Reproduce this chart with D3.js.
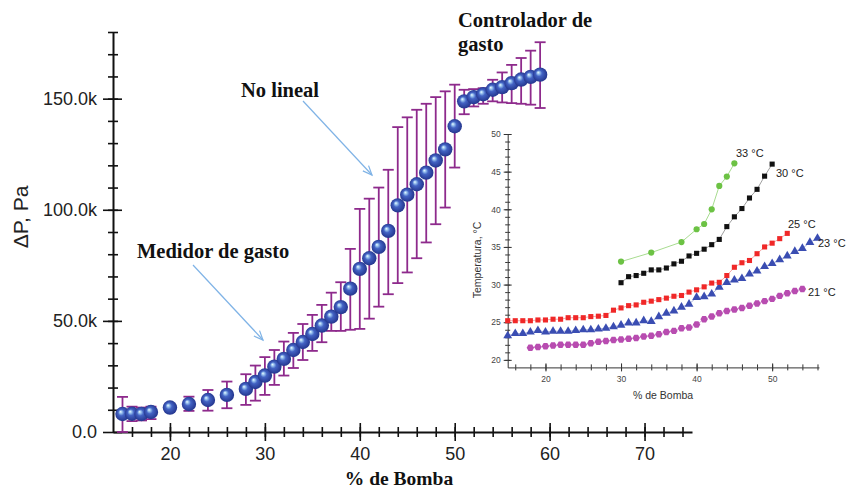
<!DOCTYPE html>
<html>
<head>
<meta charset="utf-8">
<script src="https://cdn.jsdelivr.net/npm/d3@7"></script>
<style>
  html, body { margin:0; padding:0; background:#fff; }
  svg { display:block; }
  .sans { font-family: "Liberation Sans", Arial, sans-serif; }
  .serif { font-family: "Liberation Serif", "Times New Roman", serif; font-weight:bold; }
</style>
</head>
<body>
<svg id="chart" width="847" height="489"></svg>
<script>
'use strict';

// main chart: pressure drop vs pump %
var bomba = [15,16,17,18,20,22,24,26,28,29,30,31,32,33,34,35,36,37,38,39,40,41,42,43,44,45,46,47,48,49,50,51,52,53,54,55,56,57,58,59]
  , deltaP = [8.1,8.2,8.1,9.0,11.0,12.6,14.4,16.7,19.4,22.5,25.4,29.4,32.9,36.9,40.5,44.1,47.9,51.9,56.2,64.5,73.4,78.2,83.3,90.5,102,106.8,111.5,116.7,122.2,127.2,137.6,148.8,150.7,152,154,155.2,157,158.6,159.8,160.8]
  , errHigh = [15.8,11.4,11.0,11.4,12.5,15.9,18.9,22.7,26,29.9,33.7,36.9,40.7,44.6,48.6,52.7,57.2,62.7,67.4,82.4,100.4,105,110,118,137.2,141.6,145,147.7,150.7,153.3,156.3,154,154.3,154.7,158.5,161.8,165.2,168.3,171.6,175.4]
  , errLow = [0,4.9,5.2,5.8,9.5,9.5,9.6,10.7,12.2,14.1,16.7,21.2,25.4,28.8,32.4,36.5,40.4,45.5,45.5,46,46.4,51,56.4,62,67,71.8,78.2,85.3,93.5,101,119,143,146.5,147.7,148.8,148.3,148,147.7,147.3,145.8]
  , mainXTicks = [20,30,40,50,60,70]
  , mainYTicks = [0,50,100,150];

// inset: temperature vs pump %
var t25x = d3.range(15, 53)
  , t25 = [25.2,25.2,25.2,25.2,25.3,25.3,25.4,25.4,25.6,25.6,25.6,25.75,25.8,25.9,26.6,26.9,27.2,27.3,27.65,27.8,28.0,28.2,28.45,28.55,29.0,29.3,29.7,30.2,30.3,31.2,32.3,32.9,33.2,34.1,35.0,35.5,36.1,36.8]
  , t23x = d3.range(15, 57)
  , t23 = [23.2,23.5,23.5,23.7,23.9,23.7,23.8,23.8,23.8,23.9,24.0,24.0,24.1,24.2,24.4,24.6,24.9,24.9,25.2,25.1,25.75,26.2,26.5,27.0,27.4,28.3,28.4,28.75,29.65,30.3,30.6,30.8,31.4,31.8,32.4,32.8,33.3,33.8,34.4,34.8,35.6,36.15]
  , t21x = d3.range(18, 55)
  , t21 = [21.6,21.7,21.8,21.9,22.0,22.0,22.0,22.0,22.2,22.4,22.5,22.65,22.7,22.8,22.9,23.1,23.2,23.4,23.7,23.85,24.2,24.3,24.7,25.4,25.75,26.2,26.5,26.7,26.9,27.2,27.5,27.8,28.1,28.5,28.85,29.15,29.4]
  , t30x = d3.range(30, 51)
  , t30 = [30.25,31.05,31.2,31.5,31.95,31.95,32.2,32.75,33.1,33.8,34.15,34.7,35.3,36.0,37.7,39.0,40.1,41.5,42.65,44.4,46.0]
  , t33x = [30,34,38,40,41,42,43,44,45]
  , t33 = [33.05,34.25,35.65,37.35,38.05,40.0,43.1,44.35,46.1]
  , insetXTicks = [20,30,40,50]
  , insetYTicks = [20,25,30,35,40,45,50];

var svg = d3.select('#chart');

var defs = svg.append('defs');
var grad = defs.append('radialGradient')
  .attr('id', 'ball')
  .attr('cx', '50%').attr('cy', '50%').attr('r', '55%')
  .attr('fx', '36%').attr('fy', '34%');
grad.append('stop').attr('offset', '0%').attr('stop-color', '#f2fbff');
grad.append('stop').attr('offset', '16%').attr('stop-color', '#9cc6f0');
grad.append('stop').attr('offset', '40%').attr('stop-color', '#4363c4');
grad.append('stop').attr('offset', '100%').attr('stop-color', '#1f2f86');

// ---------- main chart ----------
var x = d3.scaleLinear().domain([14, 75]).range([113, 692])
  , y = d3.scaleLinear().domain([0, 180]).range([432, 32]);

function crossAxis(g, axis, majors, minors, big, small){
  // ticks that cross the axis line on both sides
  g.append('g').call(axis.tickValues(minors).tickSize(small).tickFormat(''))
    .call(function(s){ s.select('.domain').remove(); });
  g.append('g').call(axis.tickValues(minors).tickSize(-small).tickFormat(''))
    .call(function(s){ s.select('.domain').remove(); });
  g.append('g').call(axis.tickValues(majors).tickSize(-big).tickFormat(''))
    .call(function(s){ s.select('.domain').remove(); });
}

var gx = svg.append('g').attr('transform', 'translate(0,432)');
crossAxis(gx, d3.axisBottom(x), mainXTicks, d3.range(16, 75, 2), 9, 5);
gx.append('g').call(d3.axisBottom(x).tickValues(mainXTicks).tickSize(9).tickPadding(6).tickSizeOuter(0))
  .call(function(s){
    s.select('.domain').attr('stroke-width', 2);
    s.selectAll('text').attr('class', 'sans').attr('font-size', 18).attr('fill', '#222');
  });
gx.selectAll('line').attr('stroke', '#111').attr('stroke-width', 1.6);

var gy = svg.append('g').attr('transform', 'translate(113,0)');
crossAxis(gy, d3.axisLeft(y), mainYTicks, d3.range(10, 181, 10), 9, 5);
gy.append('g').call(d3.axisLeft(y).tickValues(mainYTicks).tickSize(10).tickPadding(6).tickSizeOuter(0)
    .tickFormat(function(d){ return d === 0 ? '0.0' : d.toFixed(1) + 'k'; }))
  .call(function(s){
    s.select('.domain').attr('stroke-width', 2);
    s.selectAll('text').attr('class', 'sans').attr('font-size', 18).attr('fill', '#222');
  });
gy.selectAll('line').attr('stroke', '#111').attr('stroke-width', 1.6);
svg.selectAll('.domain').attr('stroke', '#111');

svg.append('text').attr('class', 'sans')
  .attr('transform', 'translate(28,217) rotate(-90)')
  .attr('text-anchor', 'middle').attr('font-size', 21).attr('fill', '#222')
  .text('\u0394P, Pa');

svg.append('text').attr('class', 'serif')
  .attr('x', 399).attr('y', 484.5).attr('text-anchor', 'middle')
  .attr('font-size', 19.5).attr('fill', '#111')
  .text('% de Bomba');

// ---------- inset ----------
var ix = d3.scaleLinear().domain([15, 56.2]).range([507.7, 819])
  , iy = d3.scaleLinear().domain([19, 50]).range([367.4, 134]);

var ig = svg.append('g');

var igx = ig.append('g').attr('transform', 'translate(0,367.4)');
crossAxis(igx, d3.axisBottom(ix), insetXTicks, d3.range(16, 57, 2), 4, 3);
igx.append('g').call(d3.axisBottom(ix).tickValues(insetXTicks).tickSize(4).tickPadding(5).tickSizeOuter(0))
  .call(function(s){ s.selectAll('text').attr('class', 'sans').attr('font-size', 8.5).attr('fill', '#444'); });

var igy = ig.append('g').attr('transform', 'translate(507.7,0)');
crossAxis(igy, d3.axisLeft(iy), insetYTicks, d3.range(20, 51, 1), 4, 2.5);
igy.append('g').call(d3.axisLeft(iy).tickValues(insetYTicks).tickSize(4).tickPadding(3).tickSizeOuter(0))
  .call(function(s){ s.selectAll('text').attr('class', 'sans').attr('font-size', 8.5).attr('fill', '#444'); });
ig.selectAll('line, .domain').attr('stroke', '#333').attr('stroke-width', 1);

ig.append('text').attr('class', 'sans')
  .attr('x', 663).attr('y', 399).attr('text-anchor', 'middle')
  .attr('font-size', 10.5).attr('fill', '#333').text('% de Bomba');
ig.append('text').attr('class', 'sans')
  .attr('transform', 'translate(481,260) rotate(-90)')
  .attr('text-anchor', 'middle').attr('font-size', 10.5).attr('fill', '#333')
  .text('Temperatura, \u00b0C');

var hexagon = {
  draw: function(ctx, size){
    var r = Math.sqrt(size / 2.598);
    for (var i = 0; i < 6; ++i){
      var a = Math.PI / 3 * i;
      if (i === 0) ctx.moveTo(r * Math.cos(a), r * Math.sin(a));
      else ctx.lineTo(r * Math.cos(a), r * Math.sin(a));
    }
    ctx.closePath();
  }
};

var series = [
  { xs: t21x, ys: t21, color: '#b84cb0', line: '#dcaad8', type: hexagon, size: 36, label: '21 \u00b0C', lx: 808, ly: 296 },
  { xs: t23x, ys: t23, color: '#3a4db2', line: '#aab3de', type: d3.symbolTriangle, size: 34, label: '23 \u00b0C', lx: 818, ly: 247 },
  { xs: t25x, ys: t25, color: '#f02828', line: '#f6a8a8', type: d3.symbolSquare, size: 26, label: '25 \u00b0C', lx: 788, ly: 228 },
  { xs: t30x, ys: t30, color: '#111111', line: '#a0a0a0', type: d3.symbolSquare, size: 26, label: '30 \u00b0C', lx: 776, ly: 177 },
  { xs: t33x, ys: t33, color: '#6cc244', line: '#a8dc90', type: d3.symbolCircle, size: 30, label: '33 \u00b0C', lx: 736, ly: 157 }
];

series.forEach(function(s){
  var pts = s.xs.map(function(v, i){ return [ix(v), iy(s.ys[i])]; });
  ig.append('path').attr('d', d3.line()(pts))
    .attr('fill', 'none').attr('stroke', s.line).attr('stroke-width', 1);
  ig.append('g').selectAll('path').data(pts).join('path')
    .attr('transform', function(p){ return 'translate(' + p[0] + ',' + p[1] + ')'; })
    .attr('d', d3.symbol().type(s.type).size(s.size))
    .attr('fill', s.color);
  ig.append('text').attr('class', 'sans')
    .attr('x', s.lx).attr('y', s.ly).attr('font-size', 11).attr('fill', '#222')
    .text(s.label);
});

// ---------- error bars and spheres ----------
var eb = svg.append('g').attr('stroke', '#8e2a8c').attr('stroke-width', 1.8).attr('fill', 'none');
bomba.forEach(function(v, i){
  var cx = x(v), top = y(errHigh[i]), bot = y(errLow[i]);
  eb.append('line').attr('x1', cx).attr('x2', cx).attr('y1', top).attr('y2', bot);
  eb.append('line').attr('x1', cx - 5.5).attr('x2', cx + 5.5).attr('y1', top).attr('y2', top);
  eb.append('line').attr('x1', cx - 5.5).attr('x2', cx + 5.5).attr('y1', bot).attr('y2', bot);
});

svg.append('g').selectAll('circle').data(bomba).join('circle')
  .attr('cx', function(d){ return x(d); })
  .attr('cy', function(d, i){ return y(deltaP[i]); })
  .attr('r', 7.2)
  .attr('fill', 'url(#ball)');

// ---------- annotations ----------
function note(lines, tx, ty, lh){
  var t = svg.append('text').attr('class', 'serif').attr('font-size', 20.5).attr('fill', '#111');
  lines.forEach(function(l, k){
    t.append('tspan').attr('x', tx).attr('y', ty + k * lh).text(l);
  });
}
note(['Controlador de', 'gasto'], 458, 27, 24);
note(['No lineal'], 241, 97, 0);
note(['Medidor de gasto'], 137, 258, 0);

function arrow(x1, y1, x2, y2){
  var a = Math.atan2(y2 - y1, x2 - x1), h = 10, w = 0.4;
  var g = svg.append('g').attr('stroke', '#7fb3e6').attr('stroke-width', 1.2).attr('fill', 'none');
  g.append('line').attr('x1', x1).attr('y1', y1).attr('x2', x2).attr('y2', y2);
  g.append('path').attr('d', d3.line()([
    [x2 - h * Math.cos(a - w), y2 - h * Math.sin(a - w)],
    [x2, y2],
    [x2 - h * Math.cos(a + w), y2 - h * Math.sin(a + w)]
  ]));
}
arrow(303, 101, 372, 175);
arrow(193, 265, 263, 340);
</script>
</body>
</html>
